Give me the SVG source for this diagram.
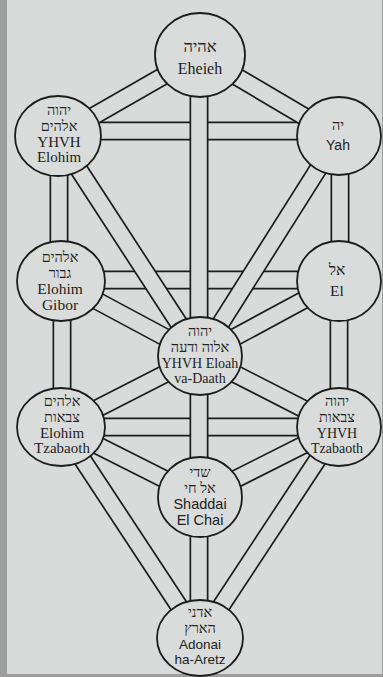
<svg xmlns="http://www.w3.org/2000/svg" xmlns:xlink="http://www.w3.org/1999/xlink" width="383" height="677" viewBox="0 0 383 677">
<style>
.o{stroke:#1c1c1c;stroke-width:19;fill:none}
.i{stroke:#d8dbd9;stroke-width:15.6;fill:none}
.n ellipse{fill:#d9dcda;stroke:#1c1c1c;stroke-width:1.8}
text{fill:#222;text-anchor:middle}
.he{font-family:"Liberation Serif","DejaVu Serif",serif;font-size:14.5px}
.la{font-family:"Liberation Serif","DejaVu Serif",serif;font-size:14px}
.sa{font-family:"Liberation Sans","DejaVu Sans",sans-serif;font-size:13.5px}
</style>
<defs>
<line id="p1" x1="57" y1="131" x2="339" y2="131"/>
<line id="p2" x1="60" y1="280" x2="339" y2="280"/>
<line id="p3" x1="61" y1="427" x2="339" y2="427"/>
<line id="p4" x1="200" y1="55" x2="57" y2="137"/>
<line id="p5" x1="200" y1="55" x2="339" y2="137"/>
<line id="p6" x1="199" y1="55" x2="199" y2="356"/>
<line id="p7" x1="59" y1="136" x2="59" y2="281"/>
<line id="p8" x1="340" y1="136" x2="340" y2="281"/>
<line id="p9" x1="57" y1="136" x2="200" y2="356"/>
<line id="p10" x1="339" y1="136" x2="200" y2="356"/>
<line id="p11" x1="60" y1="281" x2="200" y2="356"/>
<line id="p12" x1="339" y1="281" x2="200" y2="356"/>
<line id="p13" x1="62" y1="281" x2="62" y2="427"/>
<line id="p14" x1="339" y1="281" x2="339" y2="427"/>
<line id="p15" x1="200" y1="356" x2="61" y2="427"/>
<line id="p16" x1="200" y1="356" x2="339" y2="427"/>
<line id="p17" x1="199" y1="356" x2="199" y2="497"/>
<line id="p18" x1="61" y1="427" x2="200" y2="497"/>
<line id="p19" x1="339" y1="427" x2="200" y2="497"/>
<line id="p20" x1="61" y1="427" x2="200" y2="638"/>
<line id="p21" x1="339" y1="427" x2="200" y2="638"/>
<line id="p22" x1="199" y1="497" x2="199" y2="638"/>
</defs>
<rect width="383" height="677" fill="#9c9d9c"/>
<rect x="7" y="0" width="375" height="674" fill="#d8dbd9"/>
<g id="connectors">
<use href="#p1" class="o"/><use href="#p1" class="i"/>
<use href="#p2" class="o"/><use href="#p2" class="i"/>
<use href="#p3" class="o"/><use href="#p3" class="i"/>
<use href="#p4" class="o"/><use href="#p4" class="i"/>
<use href="#p5" class="o"/><use href="#p5" class="i"/>
<use href="#p6" class="o"/><use href="#p6" class="i"/>
<use href="#p7" class="o"/><use href="#p7" class="i"/>
<use href="#p8" class="o"/><use href="#p8" class="i"/>
<use href="#p9" class="o"/><use href="#p9" class="i"/>
<use href="#p10" class="o"/><use href="#p10" class="i"/>
<use href="#p11" class="o"/><use href="#p11" class="i"/>
<use href="#p12" class="o"/><use href="#p12" class="i"/>
<use href="#p13" class="o"/><use href="#p13" class="i"/>
<use href="#p14" class="o"/><use href="#p14" class="i"/>
<use href="#p15" class="o"/><use href="#p15" class="i"/>
<use href="#p16" class="o"/><use href="#p16" class="i"/>
<use href="#p17" class="o"/><use href="#p17" class="i"/>
<use href="#p18" class="o"/><use href="#p18" class="i"/>
<use href="#p19" class="o"/><use href="#p19" class="i"/>
<use href="#p20" class="o"/><use href="#p20" class="i"/>
<use href="#p21" class="o"/><use href="#p21" class="i"/>
<use href="#p22" class="o"/><use href="#p22" class="i"/>
</g>
<g id="kether" class="n">
<ellipse cx="200" cy="55" rx="45" ry="42"/>
<text class="he" x="200" y="52" style="font-size:16.5px">אהיה</text>
<text class="la" x="200" y="74" style="font-size:16px">Eheieh</text>
</g>
<g id="binah" class="n">
<ellipse cx="58" cy="136" rx="43" ry="40"/>
<text class="he" x="59" y="115">יהוה</text>
<text class="he" x="59" y="131">אלהים</text>
<text class="la" x="59" y="147" style="font-size:15px">YHVH</text>
<text class="la" x="59" y="162" style="font-size:15px">Elohim</text>
</g>
<g id="chokmah" class="n">
<ellipse cx="339" cy="136" rx="42" ry="39"/>
<text class="he" x="338" y="130">יה</text>
<text class="sa" x="338" y="150" style="font-size:14px">Yah</text>
</g>
<g id="geburah" class="n">
<ellipse cx="61" cy="281" rx="44" ry="40"/>
<text class="he" x="60" y="262">אלהים</text>
<text class="he" x="60" y="278">גבור</text>
<text class="la" x="60" y="294" style="font-size:15.5px">Elohim</text>
<text class="la" x="60" y="310" style="font-size:15.5px">Gibor</text>
</g>
<g id="chesed" class="n">
<ellipse cx="339" cy="281" rx="42" ry="40"/>
<text class="he" x="337" y="275" style="font-size:15.5px">אל</text>
<text class="la" x="337" y="296" style="font-size:15.5px">El</text>
</g>
<g id="tiphareth" class="n">
<ellipse cx="200" cy="356" rx="42" ry="39"/>
<text class="he" x="200" y="336">יהוה</text>
<text class="he" x="200" y="352">אלוה ודעה</text>
<text class="la" x="200" y="368">YHVH Eloah</text>
<text class="la" x="200" y="383">va-Daath</text>
</g>
<g id="hod" class="n">
<ellipse cx="61" cy="427" rx="44" ry="39"/>
<text class="he" x="62" y="406">אלהים</text>
<text class="he" x="62" y="422">צבאות</text>
<text class="la" x="62" y="438" style="font-size:15px">Elohim</text>
<text class="la" x="62" y="453" style="font-size:15px">Tzabaoth</text>
</g>
<g id="netzach" class="n">
<ellipse cx="339" cy="427" rx="42" ry="39"/>
<text class="he" x="337" y="406">יהוה</text>
<text class="he" x="337" y="422">צבאות</text>
<text class="la" x="337" y="438">YHVH</text>
<text class="la" x="337" y="453">Tzabaoth</text>
</g>
<g id="yesod" class="n">
<ellipse cx="200" cy="497" rx="42" ry="40"/>
<text class="he" x="200" y="477">שדי</text>
<text class="he" x="200" y="493">אל חי</text>
<text class="sa" x="200" y="509" style="font-size:14.5px">Shaddai</text>
<text class="sa" x="200" y="525" style="font-size:14.5px">El Chai</text>
</g>
<g id="malkuth" class="n">
<ellipse cx="200" cy="638" rx="43" ry="38"/>
<text class="he" x="200" y="617">אדני</text>
<text class="he" x="200" y="633">הארץ</text>
<text class="sa" x="200" y="649">Adonai</text>
<text class="sa" x="200" y="664">ha-Aretz</text>
</g>
</svg>
